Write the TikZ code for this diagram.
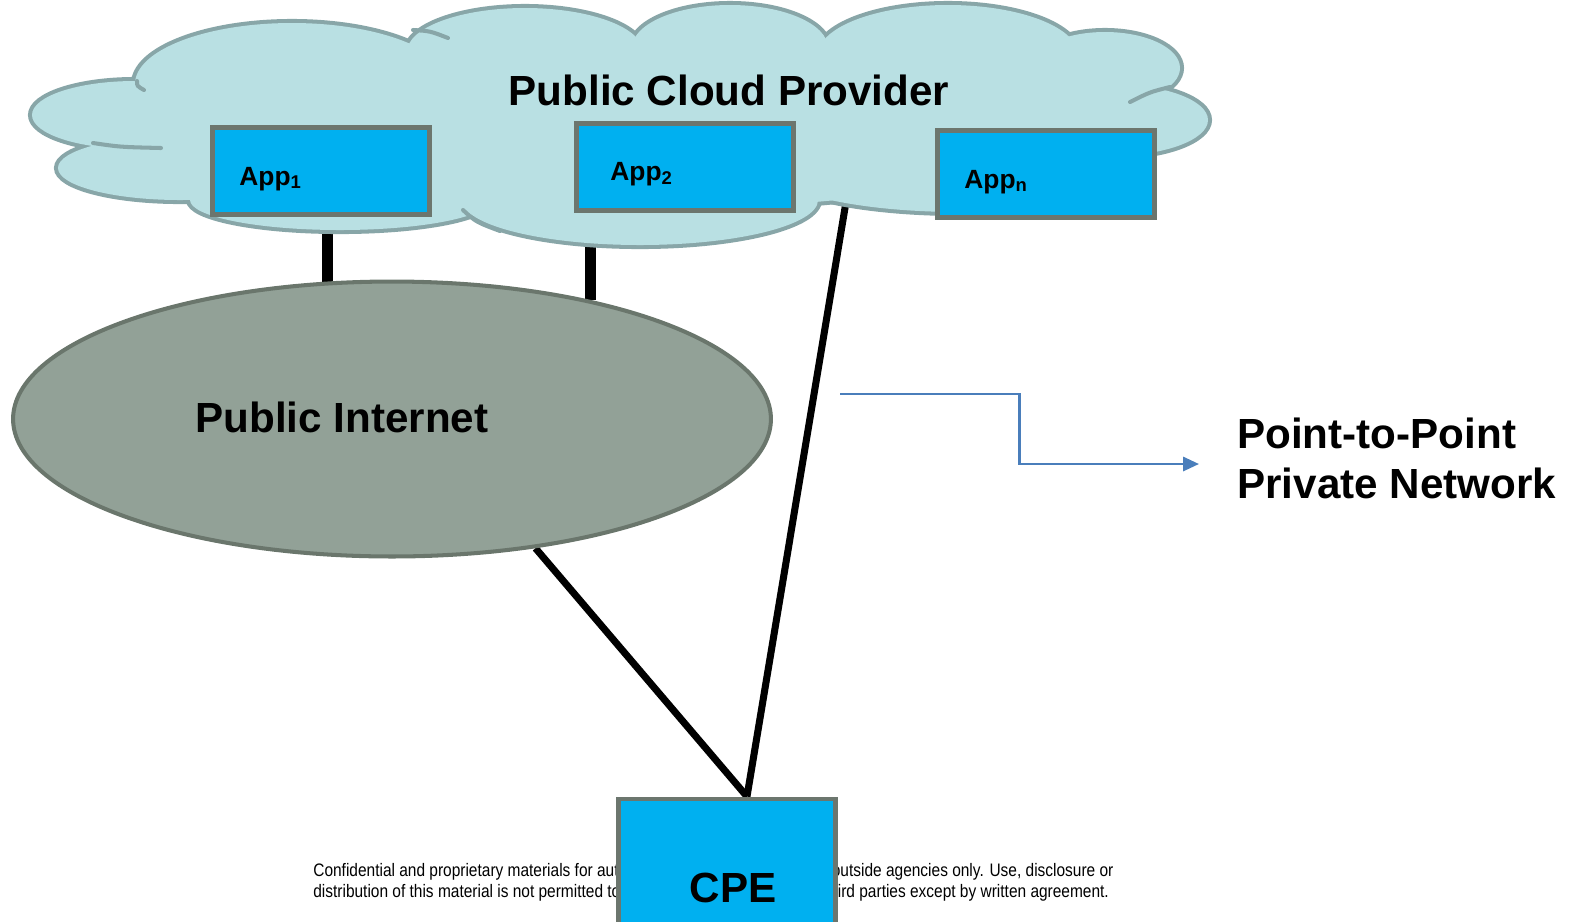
\documentclass[tikz,border=0pt]{standalone}
\usepackage{fontspec}
\setmainfont{Liberation Sans}
\newfontfamily\narrowfont[FakeStretch=0.855]{Liberation Sans}
\usetikzlibrary{arrows.meta,calc,shapes.geometric}

\pgfdeclarelayer{lines}
\pgfdeclarelayer{cloud}
\pgfsetlayers{lines,cloud,main}

\definecolor{cloudfill}{RGB}{185,224,227}
\definecolor{cloudline}{RGB}{136,166,168}
\definecolor{appblue}{RGB}{0,176,240}
\definecolor{boxline}{RGB}{108,118,110}
\definecolor{netfill}{RGB}{146,161,151}
\definecolor{netline}{RGB}{106,118,108}
\definecolor{arrowblue}{RGB}{74,126,187}

% lobes of the cloud: x/y/x radius/y radius (in px)
\def\lobes{135/115/103/34, 180/168/122/32, 340/200/150/30, 292/84/157/61,
  525/52/118/44, 730/48/98/43, 948/55/130/50, 1105/68/75/36, 1110/120/98/36,
  960/170/185/42, 640/200/178/45, 620/125/460/85, 1010/105/120/40}

\begin{document}
\begin{tikzpicture}[x=0.02cm, y=-0.02cm,
  appbox/.style={draw=boxline, fill=appblue, line width=2.8pt,
    minimum width=4.34cm, minimum height=1.74cm, inner sep=0pt},
  applabel/.style={anchor=base west, inner sep=0pt,
    font=\bfseries\fontsize{15}{18}\selectfont},
  bigtext/.style={inner sep=0pt, font=\bfseries\fontsize{24}{28}\selectfont},
  smalltext/.style={anchor=base west, inner sep=0pt,
    font=\narrowfont\fontsize{10.3}{12}\selectfont},
  link/.style={line width=4pt},
  uplink/.style={line width=6.3pt}]

\useasboundingbox (0,0) rectangle (1579,921);

% the cloud
\begin{pgfonlayer}{cloud}
\foreach \cx/\cy/\rx/\ry in \lobes
    \draw[cloudline, line width=4.6pt] (\cx,\cy) ellipse [x radius=\rx*0.02cm, y radius=\ry*0.02cm];
\foreach \cx/\cy/\rx/\ry in \lobes
    \fill[cloudfill] (\cx,\cy) ellipse [x radius=\rx*0.02cm, y radius=\ry*0.02cm];

\begin{scope}[cloudline, line width=2.3pt, line cap=round]
\draw (137,81) .. controls (137,86) .. (144,90);
\draw (93,143) .. controls (120,147) .. (161,148);
\draw (413,30) .. controls (430,31) .. (448,38);
\draw (463,210) .. controls (476,222) .. (500,231);
\draw (1170,87) .. controls (1150,92) .. (1130,102);
\end{scope}
\end{pgfonlayer}

\node[bigtext, anchor=base] (title) at (729,105) {Public Cloud Provider};

% apps
\node[appbox] (app1) at (321,171) {};
\node[appbox] (app2) at (685,167) {};
\node[appbox] (appn) at (1046,174) {};

\node[applabel] (app1txt) at ($(app1.west)+(29,14)$) {App\textsubscript{1}};
\node[applabel] (app2txt) at ($(app2.west)+(36,13)$) {App\textsubscript{2}};
\node[applabel] (appntxt) at ($(appn.west)+(29,14)$) {App\textsubscript{n}};

% internet
\node[ellipse, draw=netline, fill=netfill, line width=2.3pt,
  minimum width=15.16cm, minimum height=5.5cm, inner sep=0pt] (inet) at (392,419) {};
\node[bigtext, anchor=base] (inettxt) at (342,432) {Public Internet};

% footer
\node[smalltext] (foot1) at (313,876) {Confidential and proprietary materials for authorized Verizon personnel and outside agencies only. Use, disclosure or};
\node[smalltext] (foot2) at (313,897) {distribution of this material is not permitted to any unauthorized persons or third parties except by written agreement.};

% cpe
\node[appbox, minimum height=3.2cm] (cpe) at (727,879) {};
\node[bigtext, anchor=base] (cpetxt) at (733,902) {CPE};

% point-to-point
\node[bigtext, anchor=base west] (ptp) at (1237,448) {Point-to-Point};
\node[bigtext, anchor=base west] (pnet) at (1237,498) {Private Network};

\coordinate (arrowstart) at (840,394);
\coordinate (arrowend) at (1199,464);
\draw[arrowblue, line width=1.4pt, -{Triangle[length=9pt,width=8pt]}]
    (arrowstart) -| ($(arrowstart)!0.5!(arrowend)$) |- (arrowend);

% links
\begin{pgfonlayer}{lines}
\coordinate (tap) at (848,190);
\draw[uplink] (inet.115.5) -- (inet.115.5 |- app1.south);
\draw[uplink] (inet.31.4) -- (inet.31.4 |- app2.south);
\draw[link] (tap) -- ([xshift=0.4cm]cpe.north);
\draw[link] (inet.-42.4) -- ([xshift=0.4cm]cpe.north);
\end{pgfonlayer}

\end{tikzpicture}
\end{document}
